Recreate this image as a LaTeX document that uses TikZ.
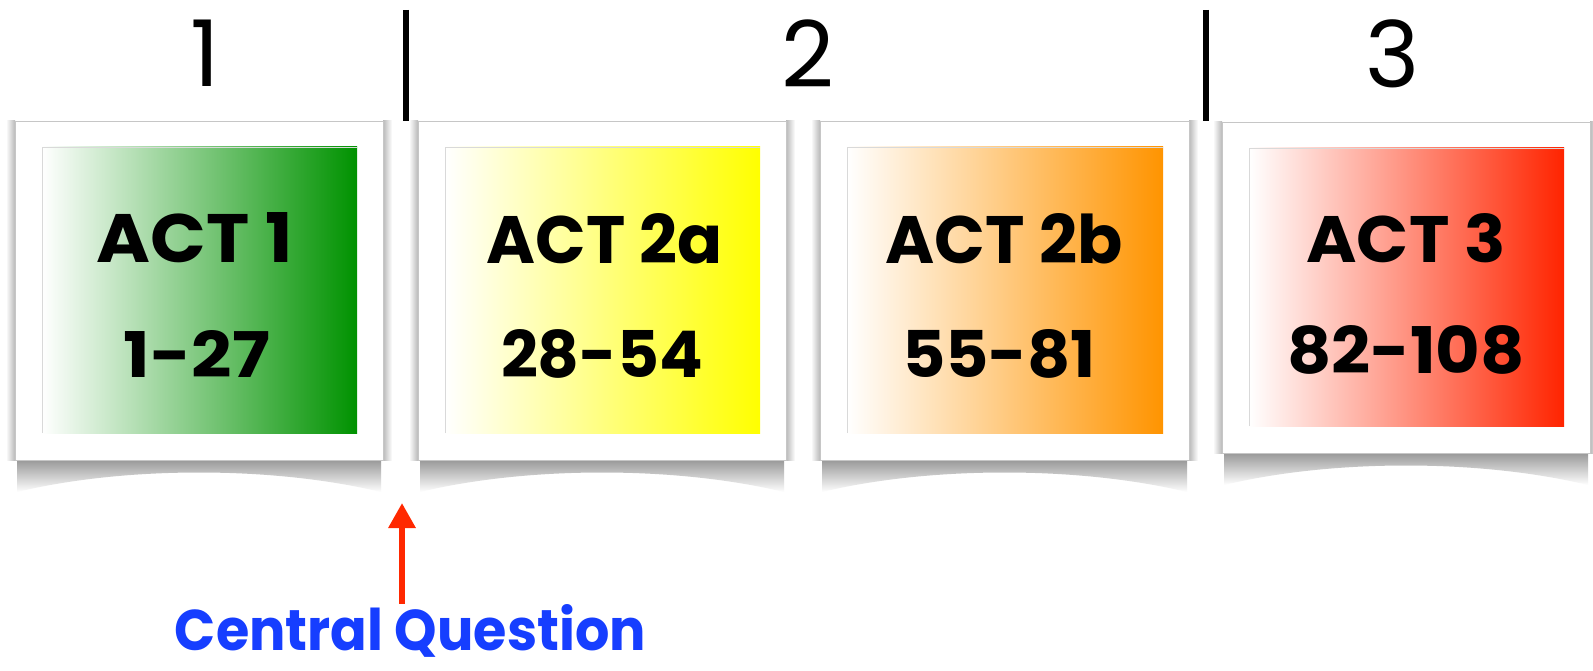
\documentclass[tikz,border=0pt]{standalone}
\usepackage{fontspec}
\usepackage{graphicx}
\newfontfamily\cfont{Poppins}
\usetikzlibrary{arrows.meta}
\definecolor{actgreen}{RGB}{0,146,0}
\definecolor{actyellow}{RGB}{255,255,0}
\definecolor{actorange}{RGB}{255,148,0}
\definecolor{actred}{RGB}{255,36,0}
\definecolor{cqblue}{RGB}{22,62,255}
\definecolor{arrowred}{RGB}{255,40,0}
\tikzset{
  acttext/.style={anchor=base, inner sep=0pt, text=black, font=\cfont\bfseries\fontsize{70}{80}\selectfont},
  headtext/.style={anchor=base, inner sep=0pt, text=black, font=\cfont\fontsize{92}{100}\selectfont},
  cqtext/.style={anchor=base, inner sep=0pt, text=cqblue, font=\cfont\bfseries\fontsize{64}{72}\selectfont},
  divider/.style={line width=6pt, black},
  qarrow/.style={line width=6pt, arrowred, -{Triangle[length=25pt,width=26pt]}},
  cardframe/.style={fill=white, draw=gray!45, line width=0.8pt},
}
\begin{document}
\begin{tikzpicture}[x=1pt,y=-1pt]
\useasboundingbox[fill=white] (0,0) rectangle (1593,671);

% cards
\foreach \xa/\ya/\xb/\yb/\col in {15/121/383/460/actgreen, 418/121/786/460/actyellow, 820/121/1189/460/actorange, 1222/122/1590/453/actred}
{
  \shade[left color=white, right color=gray!55] (\xa-9,\ya) rectangle (\xa,\yb);
  \shade[left color=gray!55, right color=white] (\xb,\ya) rectangle (\xb+9,\yb);
  \shade[top color=gray!80, bottom color=white]
    (\xa+2,\yb) -- (\xb-2,\yb) -- (\xb-2,\yb+32)
    .. controls (\xb-110,\yb+6) and (\xa+110,\yb+6) .. (\xa+2,\yb+32) -- cycle;
  \path[cardframe] (\xa,\ya) rectangle (\xb,\yb);
  \shade[left color=white, right color=\col] (\xa+27,\ya+26) rectangle (\xb-26,\yb-27);
  \draw[gray!30, line width=0.6pt] (\xa+27,\yb-27) -- (\xa+27,\ya+26) -- (\xb-26,\ya+26);
}

% header numbers and dividers
\node[headtext] (h1) at (205,87) {1};
\node[headtext] (h2) at (808,88) {2};
\node[headtext] (h3) at (1393,88) {3};
\coordinate (d1top) at (406,10);
\coordinate (d1bot) at (406,121);
\coordinate (d2top) at (1206,10);
\coordinate (d2bot) at (1206,121);
\draw[divider] (d1top) -- (d1bot);
\draw[divider] (d2top) -- (d2bot);

% card texts
\node[acttext] (a1) at (195,263) {\resizebox{196pt}{50pt}{ACT 1}};
\node[acttext] (n1) at (197,377) {\resizebox{146pt}{47pt}{1-27}};
\node[acttext] (a2) at (605,263) {\resizebox{236pt}{50pt}{ACT 2a}};
\node[acttext] (n2) at (602,377) {\resizebox{202pt}{48pt}{28-54}};
\node[acttext] (a3) at (1004,263) {\resizebox{237pt}{50pt}{ACT 2b}};
\node[acttext] (n3) at (999,377) {\resizebox{194pt}{48pt}{55-81}};
\node[acttext] (a4) at (1406,262) {\resizebox{199pt}{49pt}{ACT 3}};
\node[acttext] (n4) at (1406,373) {\resizebox{238pt}{48pt}{82-108}};

% central question
\node[cqtext] (cq) at (410.5,650) {\resizebox{471pt}{46pt}{Central Question}};
\coordinate (gap) at (402,503);
\draw[qarrow] (gap |- cq.north) -- (gap);
\end{tikzpicture}
\end{document}
